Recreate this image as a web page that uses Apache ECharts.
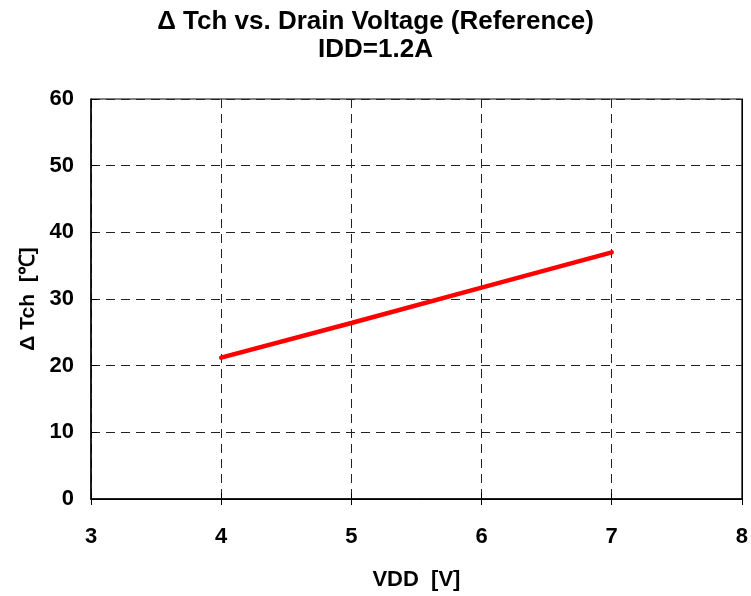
<!DOCTYPE html>
<html><head><meta charset="utf-8">
<script src="https://cdn.jsdelivr.net/npm/echarts@6/dist/echarts.min.js"></script>
<style>html,body{margin:0;padding:0;background:#fff}#c{width:751px;height:596px}</style>
</head><body><div id="c"></div>
<script>
const vdd = [4, 5, 6, 7];
const dTch = [21.2, 26.4, 31.7, 37.0];
const titleText = 'Δ Tch vs. Drain Voltage (Reference)\nIDD=1.2A';
const xName = 'VDD  [V]';
const yName = 'Δ Tch  [℃]';

const F = '"Liberation Sans", Arial, sans-serif';
const chart = echarts.init(document.getElementById('c'));
const dashLine = {show: true, lineStyle: {color: '#222', width: 1, type: [9, 6]}};
chart.setOption({
  animation: false,
  title: {text: titleText, left: 'center', top: 3,
    textStyle: {fontFamily: F, fontWeight: 'bold', fontSize: 26, lineHeight: 28, color: '#000'}},
  grid: {left: 91, right: 9, top: 99, bottom: 97, show: true, borderColor: '#000', borderWidth: 1},
  xAxis: [{
    type: 'value', min: 3, max: 8, interval: 1, position: 'bottom',
    name: xName, nameLocation: 'middle', nameGap: 70,
    nameTextStyle: {fontFamily: F, fontWeight: 'bold', fontSize: 22, color: '#000'},
    axisLine: {show: true, lineStyle: {color: '#000', width: 1.5}},
    axisTick: {show: true, inside: true, length: 6, lineStyle: {color: '#000'}},
    axisLabel: {fontFamily: F, fontWeight: 'bold', fontSize: 22, color: '#000', margin: 27},
    splitLine: dashLine
  }, {
    type: 'value', min: 3, max: 8, interval: 1, position: 'top',
    axisLine: {show: true, lineStyle: {color: '#000', width: 1}},
    axisTick: {show: true, inside: true, length: 6, lineStyle: {color: '#000'}},
    axisLabel: {show: false}, splitLine: {show: false}
  }],
  yAxis: [{
    type: 'value', min: 0, max: 60, interval: 10, position: 'left',
    name: yName, nameLocation: 'middle', nameGap: 52, nameRotate: 90,
    nameTextStyle: {fontFamily: F, fontWeight: 'bold', fontSize: 21, color: '#000'},
    axisLine: {show: true, lineStyle: {color: '#000', width: 1.5}},
    axisTick: {show: true, inside: true, length: 6, lineStyle: {color: '#000'}},
    axisLabel: {fontFamily: F, fontWeight: 'bold', fontSize: 22, color: '#000', margin: 17},
    splitLine: dashLine
  }, {
    type: 'value', min: 0, max: 60, interval: 10, position: 'right',
    axisLine: {show: true, lineStyle: {color: '#000', width: 1}},
    axisTick: {show: false},
    axisLabel: {show: false}, splitLine: {show: false}
  }],
  series: [{
    type: 'line', data: vdd.map((v, i) => [v, dTch[i]]),
    showSymbol: false, symbol: 'none',
    lineStyle: {color: '#ff0000', width: 4.5, cap: 'round'}, z: 5
  }]
});
</script></body></html>
